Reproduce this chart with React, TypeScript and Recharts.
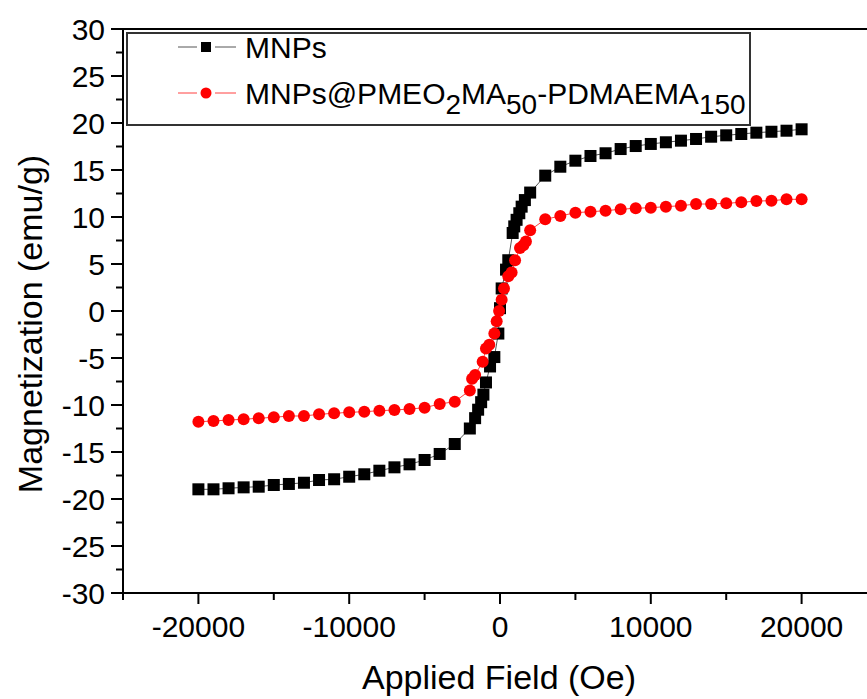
import React from "react";
import { ScatterChart, Scatter, XAxis, YAxis, ReferenceLine } from "recharts";

const FONT = "'Liberation Sans', Arial, sans-serif";

// MNPs (bare nanoparticles)
const fieldMNP = [
  -20000, -19000, -18000, -17000, -16000, -15000, -14000, -13000, -12000, -11000,
  -10000, -9000, -8000, -7000, -6000, -5000, -4000, -3000,
  -2000, -1650, -1450, -1250, -1100, -930, -660, -375, -110, 0,
  110, 400, 550, 840, 945, 1100, 1280, 1435, 1650, 2000,
  3000, 4000, 5000, 6000, 7000, 8000, 9000, 10000, 11000, 12000,
  13000, 14000, 15000, 16000, 17000, 18000, 19000, 20000,
];
const magMNP = [
  -18.97, -18.97, -18.86, -18.76, -18.69, -18.51, -18.4, -18.27, -17.98, -17.9,
  -17.63, -17.37, -16.99, -16.63, -16.31, -15.85, -15.21, -14.15,
  -12.5, -11.4, -10.5, -9.7, -8.9, -7.6, -5.9, -4.9, -2.4, 0.3,
  2.4, 4.4, 5.4, 8.3, 9.0, 9.7, 10.4, 11.1, 11.8, 12.6,
  14.4, 15.35, 15.99, 16.49, 16.78, 17.23, 17.55, 17.77, 17.95, 18.12,
  18.3, 18.54, 18.69, 18.83, 18.97, 19.07, 19.18, 19.33,
];

// MNPs@PMEO2MA50-PDMAEMA150
const fieldCoated = [
  -20000, -19000, -18000, -17000, -16000, -15000, -14000, -13000, -12000, -11000,
  -10000, -9000, -8000, -7000, -6000, -5000, -4000, -3000,
  -2000, -1850, -1650, -1150, -930, -710, -375, -220, -60,
  110, 265, 550, 770, 1000, 1325, 1550, 1720, 2000,
  3000, 4000, 5000, 6000, 7000, 8000, 9000, 10000, 11000, 12000,
  13000, 14000, 15000, 16000, 17000, 18000, 19000, 20000,
];
const magCoated = [
  -11.78, -11.7, -11.6, -11.52, -11.41, -11.31, -11.17, -11.17, -10.99, -10.88,
  -10.78, -10.71, -10.61, -10.53, -10.43, -10.29, -9.89, -9.65,
  -8.45, -7.2, -6.8, -5.4, -4.0, -3.6, -2.4, -1.1, 0.0,
  1.2, 2.4, 3.7, 4.1, 5.4, 6.7, 7.0, 7.4, 8.6,
  9.75, 10.11, 10.46, 10.56, 10.67, 10.82, 10.93, 10.99, 11.1, 11.2,
  11.38, 11.38, 11.46, 11.56, 11.7, 11.73, 11.88, 11.88,
];

const xTicks = [-25000, -20000, -15000, -10000, -5000, 0, 5000, 10000, 15000, 20000, 25000];
const yTicks = [
  -30, -27.5, -25, -22.5, -20, -17.5, -15, -12.5, -10, -7.5, -5, -2.5, 0,
  2.5, 5, 7.5, 10, 12.5, 15, 17.5, 20, 22.5, 25, 27.5, 30,
];

const mnpData = fieldMNP.map((x, i) => ({ x, y: magMNP[i] }));
const coatedData = fieldCoated.map((x, i) => ({ x, y: magCoated[i] }));

const Square = (p: any) => (
  <rect x={p.cx - 6} y={p.cy - 6} width={12} height={12} fill="#000" />
);
const Dot = (p: any) => <circle cx={p.cx} cy={p.cy} r={6} fill="#ff0000" />;

const YTick = ({ x, y, payload }: any) => {
  const v = payload.value;
  const major = v % 5 === 0;
  return (
    <g>
      <line x1={x} x2={x - (major ? 12 : 7)} y1={y} y2={y} stroke="#000" strokeWidth={2} />
      {major && (
        <text x={x - 18} y={y} dy="0.35em" textAnchor="end" fontSize={30} fontFamily={FONT} fill="#000">
          {v}
        </text>
      )}
    </g>
  );
};

const XTick = ({ x, y, payload }: any) => {
  const v = payload.value;
  const major = v % 10000 === 0;
  return (
    <g>
      <line x1={x} x2={x} y1={y} y2={y + (major ? 11 : 7)} stroke="#000" strokeWidth={2} />
      {major && (
        <text x={x} y={y + 44} textAnchor="middle" fontSize={30} fontFamily={FONT} fill="#000">
          {v}
        </text>
      )}
    </g>
  );
};

export default function App() {
  return (
    <div style={{ position: "absolute", left: 0, top: 0, width: 867, height: 699, overflow: "hidden", background: "#fff" }}>
      <ScatterChart width={877} height={699} margin={{ top: 29, right: 0, bottom: 0, left: 0 }}>
        <XAxis
          type="number"
          dataKey="x"
          domain={[-25000, 25000]}
          ticks={xTicks}
          interval={0}
          tickSize={0}
          tickMargin={0}
          tickLine={false}
          tick={<XTick />}
          height={106}
          axisLine={{ stroke: "#000", strokeWidth: 2 }}
          allowDataOverflow
          label={{
            content: () => (
              <text x={499} y={689} textAnchor="middle" fontSize={34} fontFamily={FONT} fill="#000">
                Applied Field (Oe)
              </text>
            ),
          }}
        />
        <YAxis
          type="number"
          dataKey="y"
          domain={[-30, 30]}
          ticks={yTicks}
          interval={0}
          tickSize={0}
          tickMargin={0}
          tickLine={false}
          tick={<YTick />}
          width={123}
          axisLine={{ stroke: "#000", strokeWidth: 2 }}
          allowDataOverflow
          label={{
            content: () => (
              <text
                transform="translate(30,324) rotate(-90)"
                dy="0.35em"
                textAnchor="middle"
                fontSize={34}
                fontFamily={FONT}
                fill="#000"
              >
                Magnetization (emu/g)
              </text>
            ),
          }}
        />
        <ReferenceLine y={30} stroke="#000" strokeWidth={2} />
        <Scatter
          name="MNPs"
          data={mnpData}
          line={{ stroke: "#555", strokeWidth: 1 }}
          shape={<Square />}
          isAnimationActive={false}
        />
        <Scatter
          name="MNPs@PMEO2MA50-PDMAEMA150"
          data={coatedData}
          line={{ stroke: "#ff4040", strokeWidth: 1 }}
          shape={<Dot />}
          isAnimationActive={false}
        />
      </ScatterChart>
      <svg width={867} height={699} style={{ position: "absolute", left: 0, top: 0, pointerEvents: "none" }}>
        <rect x={127} y={33} width={623} height={92} fill="#fff" stroke="#333" strokeWidth={2} />
        <line x1={178} x2={197} y1={47} y2={47} stroke="#555" strokeWidth={1} />
        <line x1={215} x2={236} y1={47} y2={47} stroke="#555" strokeWidth={1} />
        <rect x={201} y={42} width={10} height={10} fill="#000" />
        <text x={245} y={58} fontSize={30} fontFamily={FONT} fill="#000">MNPs</text>
        <line x1={178} x2={197} y1={93} y2={93} stroke="#ff4040" strokeWidth={1} />
        <line x1={215} x2={236} y1={93} y2={93} stroke="#ff4040" strokeWidth={1} />
        <circle cx={206} cy={93} r={5.5} fill="#ff0000" />
        <text x={245} y={104} fontSize={30} fontFamily={FONT} fill="#000">
          MNPs@PMEO
          <tspan dy={10} fontSize={28}>2</tspan>
          <tspan dy={-10}>MA</tspan>
          <tspan dy={10} fontSize={28}>50</tspan>
          <tspan dy={-10}>-PDMAEMA</tspan>
          <tspan dy={10} fontSize={28}>150</tspan>
        </text>
      </svg>
    </div>
  );
}
